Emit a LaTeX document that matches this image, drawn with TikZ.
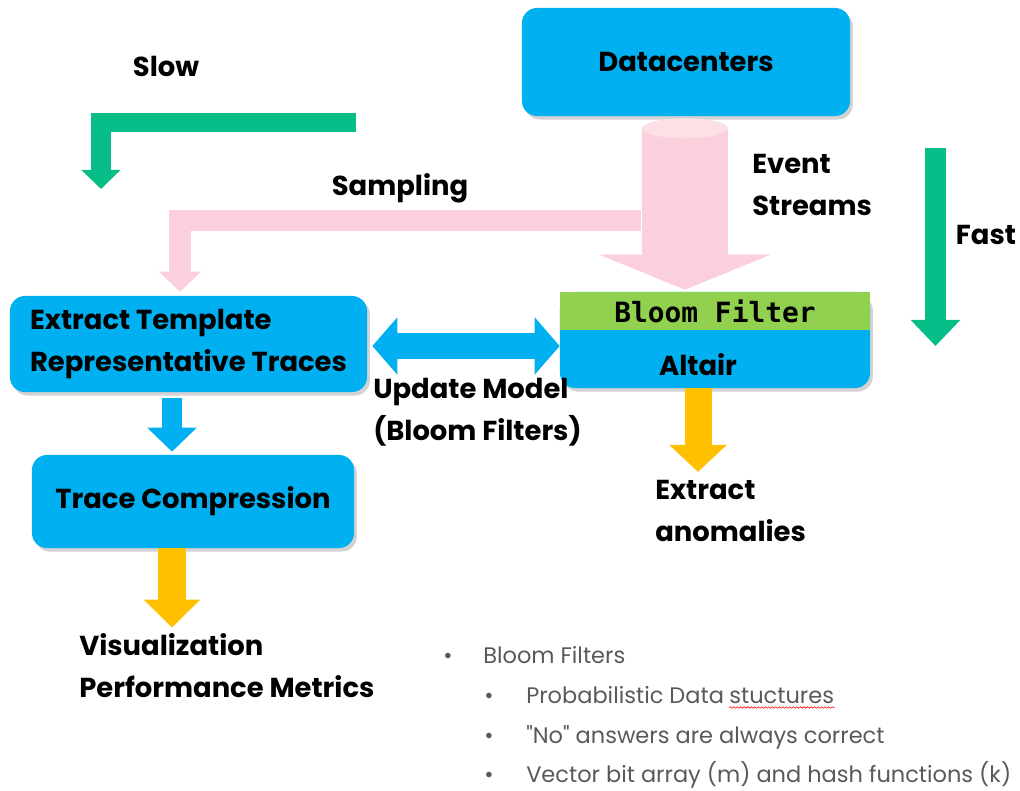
\documentclass[tikz,border=0pt]{standalone}
\usepackage{fontspec}
\setmainfont{Poppins}
\newfontfamily\codefont{DejaVu Sans Mono}
\usetikzlibrary{arrows.meta,shadows,calc,positioning,decorations.pathmorphing}
\definecolor{boxblue}{RGB}{0,176,240}
\definecolor{streampink}{RGB}{251,207,219}
\definecolor{streamtop}{RGB}{252,224,230}
\definecolor{speedgreen}{RGB}{8,190,136}
\definecolor{outyellow}{RGB}{255,192,0}
\definecolor{filtergreen}{RGB}{146,208,80}
\definecolor{notegray}{RGB}{89,89,89}
\newcommand{\lblfont}{\fontsize{19.5}{30}\selectfont\bfseries}
\newcommand{\notefont}{\fontsize{16}{28}\selectfont}

\begin{document}
\begin{tikzpicture}[x=0.025cm,y=-0.025cm]
		\tikzstyle{block}=[fill=boxblue,rounded corners=0.375cm,inner sep=0pt,font=\lblfont,drop shadow={shadow xshift=2pt,shadow yshift=-2.5pt,opacity=0.35}]
		\tikzstyle{lbl}=[inner sep=0pt,font=\lblfont,align=left]
		\tikzstyle{note}=[inner sep=0pt,font=\notefont,text=notegray,anchor=base west]
		%\tikzstyle{block}=[fill=boxblue,rounded corners=0.375cm]

		\useasboundingbox (0,0) rectangle (1020,790);

		\node[block,minimum width=8.2cm,minimum height=2.7cm](dc) at (686,62){Datacenters};
		\node[block,minimum width=8.925cm,minimum height=2.4cm,align=left](ext) at (188.5,344){Extract Template\\Representative Traces};
		\node[block,minimum width=8.05cm,minimum height=2.325cm](tc) at (193,501.5){Trace Compression};
		\node[block,minimum width=7.75cm,minimum height=2.4cm](alt) at (715,340){};
		\node[fill=filtergreen,minimum width=7.75cm,minimum height=0.95cm,inner sep=0pt,anchor=north,font=\codefont\fontsize{19.8}{22}\selectfont\bfseries](bf) at (alt.north){Bloom Filter};
		\node[lbl](altl) at (698,365){Altair};

		\node[lbl](slow) at (166,66){Slow};
		\node[lbl](samp) at (400,188){Sampling};
		\node[lbl,anchor=west](evs) at (752,185){Event\\Streams};
		\node[lbl](fast) at (986,235){Fast};
		\node[lbl,anchor=west](upd) at (373,412){Update Model\\(Bloom Filters)};
		\node[lbl,anchor=west](anom) at (655,511){Extract\\anomalies};
		\node[lbl,anchor=west](viz) at (79,666){Visualization\\Performance Metrics};

		\coordinate (cyltop) at ($(dc.south)+(-1,12)$);
		\coordinate (sampstart) at (641,220);
		\coordinate (slowstart) at (356,122);
		\coordinate (slowend) at (101,189);
		\coordinate (faststart) at (935.5,148);
		\coordinate (fastend) at (935.5,346);

		\draw[speedgreen,line width=0.475cm,line join=miter,-{Triangle[width=0.95cm,length=0.475cm]}] (slowstart) -| (slowend);
		\draw[speedgreen,line width=0.525cm,-{Triangle[width=1.2cm,length=0.65cm]}] (faststart) -- (fastend);

		\draw[streampink,line width=0.525cm,line join=miter,-{Triangle[width=1.025cm,length=0.5cm]}] (sampstart) -| ($(ext.north)+(-8.5,-4)$);
		\draw[streampink,line width=2.15cm,-{Triangle[width=4.25cm,length=0.875cm]}] (cyltop) -- ($(cyltop |- bf.north)+(0,-2)$);
		\fill[streamtop] (cyltop) ellipse [x radius=1.075cm,y radius=0.25cm];

		\draw[boxblue,line width=0.65cm,{Triangle[width=1.4cm,length=0.625cm]}-{Triangle[width=1.4cm,length=0.625cm]}] ($(ext.east)+(5,2)$) -- ($(alt.west |- ext.east)+(0,2)$);
		\draw[boxblue,line width=0.5cm,-{Triangle[width=1.2cm,length=0.6cm]}] ($(tc.north |- ext.south)+(-21,6)$) -- ($(tc.north)+(-21,-3)$);

		\draw[outyellow,line width=0.7cm,-{Triangle[width=1.375cm,length=0.7cm]}] ($(tc.south)+(-21,0)$) -- ($(tc.south |- viz.north)+(-21,-6)$);
		\draw[outyellow,line width=0.675cm,-{Triangle[width=1.4cm,length=0.675cm]}] ($(alt.south)+(-17,0)$) -- ($(alt.south |- anom.north)+(-17,-8)$);

		\node[note](b0) at (443,663){\textbullet};
		\node[note](t0) at (483,663){Bloom Filters};
		\node[note](b1) at (484,703){\textbullet};
		\node[note](t1) at (526,703){Probabilistic Data};
		\node[note,right=0.12cm of t1.base east,anchor=base west](t1b){stuctures};
		\node[note](b2) at (484,743){\textbullet};
		\node[note](t2) at (526,743){\textquotedbl No\textquotedbl{} answers are always correct};
		\node[note](b3) at (484,782){\textbullet};
		\node[note](t3) at (526,782){Vector bit array (m) and hash functions (k)};
		\draw[red,decorate,decoration={snake,amplitude=0.6pt,segment length=2.5pt}] ($(t1b.south west)+(0,4)$) -- ($(t1b.south east)+(0,4)$);
	\end{tikzpicture}
\end{document}
